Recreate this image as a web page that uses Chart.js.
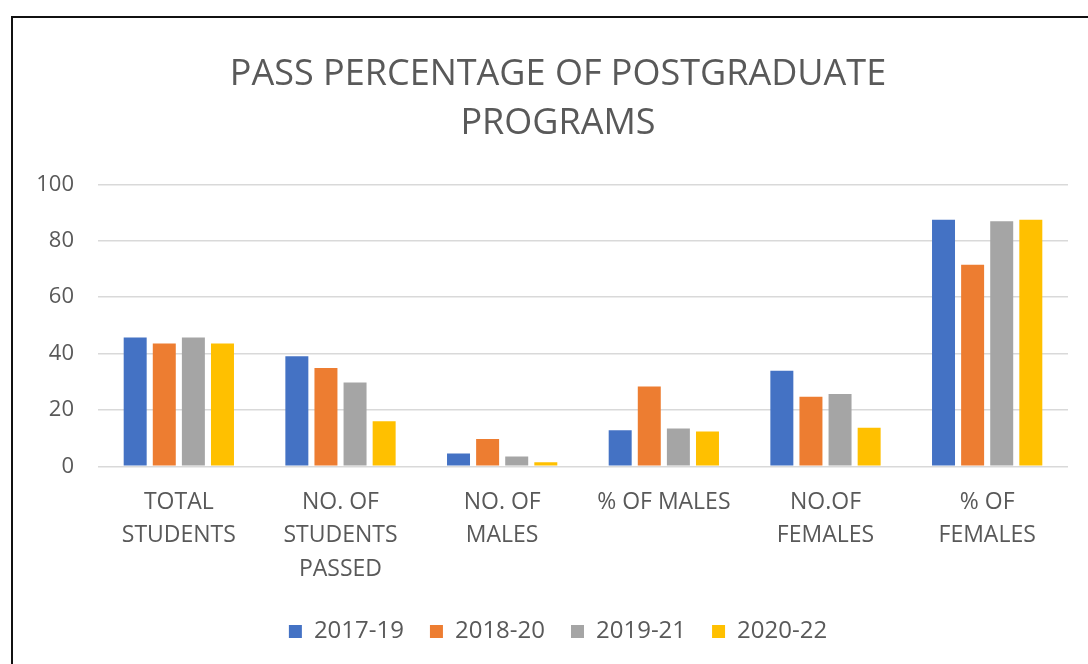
<!DOCTYPE html>
<html>
<head>
<meta charset="utf-8">
<script src="https://cdn.jsdelivr.net/npm/chart.js@4/dist/chart.umd.min.js"></script>
<style>
    html, body { margin: 0; padding: 0; background: #fff; overflow: hidden; }
    #frame {
        position: absolute;
        left: 11px;
        top: 16px;
        width: 1092px;
        height: 700px;
        border: 2px solid #111;
        background: #fff;
    }
    #chartBox { position: relative; width: 1090px; height: 680px; }
</style>
</head>
<body>
<div id="frame">
    <div id="chartBox"><canvas id="passChart"></canvas></div>
</div>
<script>
// Categories (x axis)
const categories = [
    ['TOTAL', 'STUDENTS'],
    ['NO. OF', 'STUDENTS', 'PASSED'],
    ['NO. OF', 'MALES'],
    '% OF MALES',
    ['NO.OF', 'FEMALES'],
    ['% OF', 'FEMALES']
];

// Series values
const years = ['2017-19', '2018-20', '2019-21', '2020-22'];
const values2017 = [45.7, 39.0, 4.5, 12.8, 33.9, 87.5];
const values2018 = [43.6, 34.9, 9.7, 28.3, 24.7, 71.5];
const values2019 = [45.7, 29.7, 3.5, 13.4, 25.6, 86.9];
const values2020 = [43.6, 16.0, 1.4, 12.3, 13.7, 87.5];

const yTicks = [0, 20, 40, 60, 80, 100];
const colors = ['#4472C4', '#ED7D31', '#A5A5A5', '#FFC000'];

const textColor = '#595959';
const fontFamily = "'Open Sans', 'Liberation Sans', sans-serif";

const seriesValues = [values2017, values2018, values2019, values2020];

const ctx = document.getElementById('passChart').getContext('2d');
new Chart(ctx, {
    type: 'bar',
    data: {
        labels: categories,
        datasets: years.map((year, i) => ({
            label: year,
            data: seriesValues[i],
            backgroundColor: colors[i],
            borderWidth: 0,
            barPercentage: 0.79,
            categoryPercentage: 0.72
        }))
    },
    options: {
        responsive: true,
        maintainAspectRatio: false,
        animation: false,
        layout: {
            // same padding left and right so the title and legend stay centred
            padding: { left: 20, right: 20, top: 32, bottom: 44.5 }
        },
        plugins: {
            title: {
                display: true,
                text: ['PASS PERCENTAGE OF POSTGRADUATE', 'PROGRAMS'],
                color: textColor,
                font: { family: fontFamily, size: 36, weight: 'normal', lineHeight: 1.36 },
                padding: { top: 0, bottom: 36.5 }
            },
            legend: {
                position: 'bottom',
                labels: {
                    color: textColor,
                    font: { family: fontFamily, size: 24, lineHeight: 1.0 },
                    boxWidth: 13,
                    boxHeight: 13,
                    padding: 26
                }
            },
            tooltip: { enabled: false }
        },
        scales: {
            x: {
                // a bit less room under the labels, as in the reference
                afterFit: axis => {
                    axis.height -= 3.5;
                },
                grid: { display: false },
                border: { display: false },
                ticks: {
                    color: textColor,
                    font: { family: fontFamily, size: 23, lineHeight: 1.46 },
                    maxRotation: 0,
                    autoSkip: false,
                    padding: 11
                }
            },
            y: {
                min: 0,
                max: 100,
                afterBuildTicks: axis => {
                    axis.ticks = yTicks.map(v => ({ value: v }));
                },
                // fixed width so the plot starts where the reference plot starts
                afterFit: axis => {
                    axis.width = 65;
                },
                grid: { color: '#D9D9D9', lineWidth: 1.5, drawTicks: false },
                border: { display: false },
                ticks: {
                    color: textColor,
                    font: { family: fontFamily, size: 22 },
                    padding: 24
                }
            },
            // empty spacer on the right, keeps the plot narrower than the title box
            spacer: {
                position: 'right',
                min: 0,
                max: 100,
                afterFit: axis => {
                    axis.width = 15;
                },
                grid: { display: false },
                border: { display: false },
                ticks: { display: false }
            }
        }
    }
});
</script>
</body>
</html>
